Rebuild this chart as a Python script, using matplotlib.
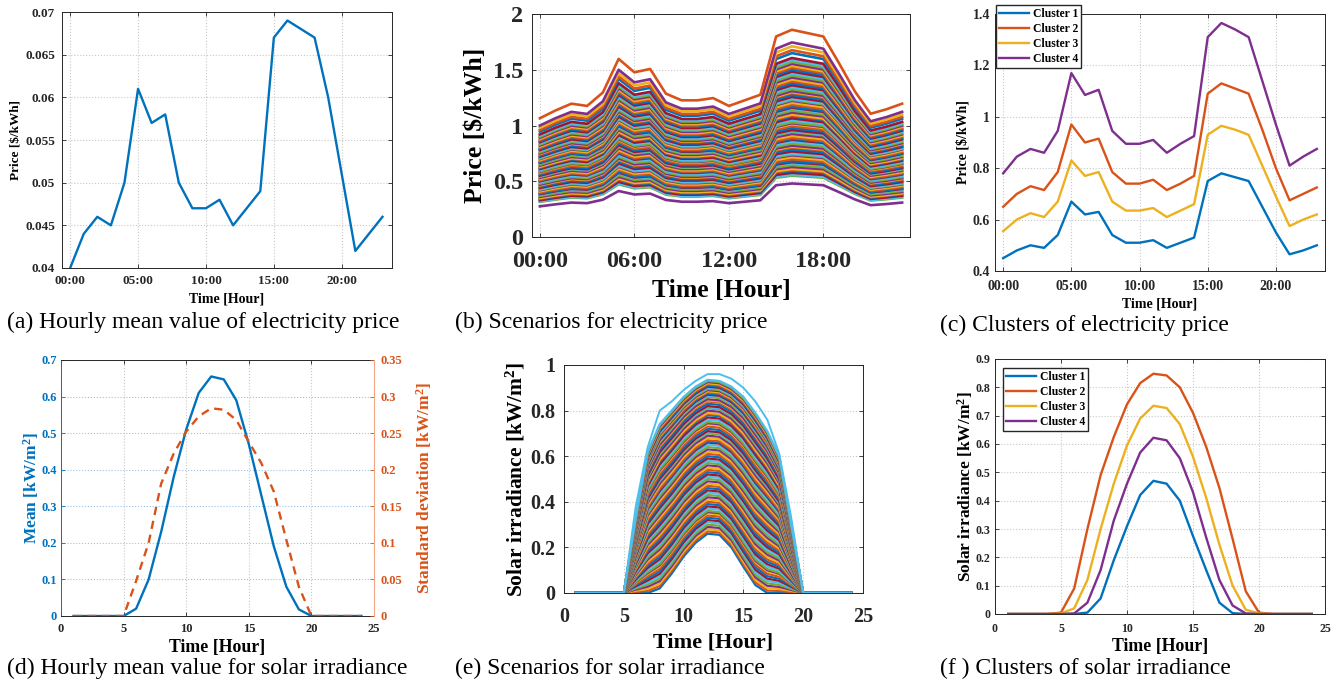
import numpy as np
import matplotlib
matplotlib.use("Agg")
import matplotlib.pyplot as plt
from matplotlib.ticker import FormatStrFormatter

plt.rcParams["font.family"] = ["Liberation Serif", "DejaVu Serif"]
plt.rcParams["font.weight"] = "bold"
plt.rcParams["mathtext.fontset"] = "custom"
plt.rcParams["mathtext.rm"] = "Liberation Serif:bold"
plt.rcParams["mathtext.bf"] = "Liberation Serif:bold"
plt.rcParams["mathtext.default"] = "bf"

# MATLAB default line colours
matlab = ["#0072BD", "#D95319", "#EDB120", "#7E2F8E", "#77AC30", "#4DBEEE", "#A2142F"]

# ---- electricity price data (hour 0..23) ----
hours_day = np.arange(24)
mean_price = [0.040, 0.044, 0.046, 0.045, 0.050, 0.061, 0.057, 0.058, 0.050, 0.047, 0.047, 0.048,
              0.045, 0.047, 0.049, 0.067, 0.069, 0.068, 0.067, 0.060, 0.051, 0.042, 0.044, 0.046]

# highest price scenario, every other scenario follows the same daily shape
top_scenario = [1.06, 1.13, 1.19, 1.17, 1.29, 1.59, 1.47, 1.50, 1.28, 1.22, 1.22, 1.24,
                1.17, 1.22, 1.27, 1.79, 1.85, 1.82, 1.79, 1.55, 1.30, 1.10, 1.14, 1.19]
scenario_start = [0.275, 0.315, 0.32, 0.33, 0.34, 0.345, 0.35, 0.36, 0.37, 0.38, 0.385, 0.39,
                  0.40, 0.41, 0.42, 0.425, 0.43, 0.44, 0.45, 0.46, 0.465, 0.47, 0.48, 0.49,
                  0.50, 0.505, 0.51, 0.52, 0.53, 0.54, 0.545, 0.55, 0.56, 0.57, 0.58, 0.585,
                  0.59, 0.60, 0.61, 0.62, 0.625, 0.63, 0.64, 0.65, 0.66, 0.665, 0.67, 0.68,
                  0.69, 0.70, 0.705, 0.71, 0.72, 0.73, 0.74, 0.745, 0.75, 0.76, 0.77, 0.78,
                  0.79, 0.80, 0.81, 0.82, 0.83, 0.84, 0.85, 0.86, 0.87, 0.88, 0.89, 0.90,
                  0.91, 0.92, 0.945, 0.96, 0.98, 1.0, 1.065]

price_c1 = [0.45, 0.48, 0.50, 0.49, 0.54, 0.67, 0.62, 0.63, 0.54, 0.51, 0.51, 0.52,
            0.49, 0.51, 0.53, 0.75, 0.78, 0.765, 0.75, 0.65, 0.55, 0.465, 0.48, 0.50]
price_c2 = [0.65, 0.70, 0.73, 0.715, 0.785, 0.97, 0.90, 0.915, 0.785, 0.74, 0.74, 0.755,
            0.715, 0.74, 0.77, 1.09, 1.13, 1.11, 1.09, 0.95, 0.80, 0.675, 0.70, 0.725]
price_c3 = [0.555, 0.60, 0.625, 0.61, 0.67, 0.83, 0.77, 0.785, 0.67, 0.635, 0.635, 0.645,
            0.61, 0.635, 0.66, 0.93, 0.965, 0.95, 0.93, 0.81, 0.69, 0.575, 0.60, 0.62]
price_c4 = [0.78, 0.845, 0.875, 0.86, 0.945, 1.17, 1.085, 1.105, 0.945, 0.895, 0.895, 0.91,
            0.86, 0.895, 0.925, 1.31, 1.365, 1.34, 1.31, 1.14, 0.97, 0.81, 0.845, 0.875]

# ---- solar irradiance data (hour 1..24) ----
hours_solar = np.arange(1, 25)
solar_mean = [0, 0, 0, 0, 0, 0.02, 0.10, 0.23, 0.38, 0.51, 0.61, 0.655,
              0.647, 0.59, 0.47, 0.33, 0.19, 0.08, 0.018, 0, 0, 0, 0, 0]
solar_std = [0, 0, 0, 0, 0, 0.048, 0.10, 0.181, 0.222, 0.252, 0.273, 0.284,
             0.282, 0.268, 0.238, 0.209, 0.17, 0.104, 0.04, 0, 0, 0, 0, 0]

solar_outer = [0, 0, 0, 0, 0, 0.38, 0.64, 0.80, 0.84, 0.89, 0.93, 0.96,
               0.96, 0.94, 0.90, 0.84, 0.76, 0.61, 0.33, 0, 0, 0, 0, 0]
solar_band_top = [0, 0, 0, 0, 0, 0.33, 0.62, 0.74, 0.80, 0.86, 0.905, 0.935,
                  0.93, 0.905, 0.86, 0.79, 0.71, 0.60, 0.30, 0, 0, 0, 0, 0]
solar_band_low = [0, 0, 0, 0, 0, 0, 0, 0.02, 0.085, 0.16, 0.22, 0.26,
                  0.255, 0.20, 0.115, 0.035, 0, 0, 0, 0, 0, 0, 0, 0]
solar_peaks = [0.26, 0.27, 0.28, 0.29, 0.30, 0.31, 0.32, 0.33, 0.34, 0.35, 0.355, 0.36,
               0.37, 0.38, 0.39, 0.40, 0.41, 0.42, 0.43, 0.44, 0.45, 0.46, 0.47, 0.48,
               0.49, 0.50, 0.51, 0.52, 0.53, 0.54, 0.55, 0.56, 0.57, 0.58, 0.59, 0.60,
               0.61, 0.62, 0.63, 0.64, 0.65, 0.66, 0.665, 0.67, 0.68, 0.69, 0.70, 0.705,
               0.71, 0.72, 0.73, 0.74, 0.745, 0.75, 0.76, 0.77, 0.78, 0.785, 0.79, 0.80,
               0.81, 0.815, 0.82, 0.83, 0.84, 0.845, 0.85, 0.86, 0.865, 0.87, 0.875, 0.88,
               0.885, 0.89, 0.895, 0.90, 0.905, 0.91, 0.915, 0.92, 0.925, 0.93, 0.935]

solar_c1 = [0, 0, 0, 0, 0, 0, 0.005, 0.055, 0.19, 0.31, 0.42, 0.47,
            0.46, 0.40, 0.275, 0.155, 0.04, 0.003, 0, 0, 0, 0, 0, 0]
solar_c2 = [0, 0, 0, 0, 0.005, 0.09, 0.30, 0.49, 0.625, 0.74, 0.815, 0.848,
            0.842, 0.80, 0.71, 0.59, 0.445, 0.265, 0.08, 0.005, 0, 0, 0, 0]
solar_c3 = [0, 0, 0, 0, 0.002, 0.02, 0.12, 0.30, 0.46, 0.595, 0.69, 0.735,
            0.727, 0.67, 0.555, 0.41, 0.245, 0.10, 0.015, 0.002, 0, 0, 0, 0]
solar_c4 = [0, 0, 0, 0, 0, 0.002, 0.04, 0.155, 0.33, 0.46, 0.57, 0.622,
            0.613, 0.55, 0.43, 0.27, 0.12, 0.03, 0.002, 0, 0, 0, 0, 0]

cluster_names = ["Cluster 1", "Cluster 2", "Cluster 3", "Cluster 4"]
W, H = 1341, 685


def box(l, t, r, b):
    return [l / W, 1 - b / H, (r - l) / W, (b - t) / H]


def style(ax, tsize, xpad, ypad):
    ax.tick_params(direction="in", top=True, right=True, labelsize=tsize,
                   colors="#262626", length=3, width=0.6)
    ax.tick_params(axis="x", pad=xpad)
    ax.tick_params(axis="y", pad=ypad)
    for s in ax.spines.values():
        s.set_color("#262626")
        s.set_linewidth(0.7)
    ax.grid(True, color="#c8c8c8", linestyle=":", linewidth=0.8)
    ax.set_axisbelow(True)
    for lab in ax.get_xticklabels() + ax.get_yticklabels():
        lab.set_fontweight("bold")


fig = plt.figure(figsize=(W / 100, H / 100), dpi=100)

# (a) hourly mean price
ax = fig.add_axes(box(62, 12, 392, 268))
ax.plot(hours_day, mean_price, color=matlab[0], lw=1.7)
ax.set_xlim(-0.6, 23.7)
ax.set_ylim(0.04, 0.07)
ax.set_xticks([0, 5, 10, 15, 20], ["00:00", "05:00", "10:00", "15:00", "20:00"])
ax.set_yticks(np.arange(0.04, 0.0701, 0.005))
ax.yaxis.set_major_formatter(FormatStrFormatter("%g"))
style(ax, 9.5, 5, 5)
ax.set_xlabel("Time [Hour]", fontsize=10, fontweight="bold", labelpad=4)
ax.set_ylabel(r"Price [\$/kWh]", fontsize=9.5, fontweight="bold", labelpad=2)

# (b) price scenarios
ax = fig.add_axes(box(532, 14, 910, 237))
top = np.array(top_scenario)
n = len(scenario_start)
for i, s in enumerate(scenario_start):
    c = matlab[1] if i == n - 1 else matlab[(i + 3) % 7]
    ax.plot(hours_day, top * s / top[0], color=c, lw=1.9)
ax.set_xlim(-0.5, 23.5)
ax.set_ylim(0, 2)
ax.set_xticks([0, 6, 12, 18], ["00:00", "06:00", "12:00", "18:00"])
ax.set_yticks([0, 0.5, 1, 1.5, 2])
ax.yaxis.set_major_formatter(FormatStrFormatter("%g"))
style(ax, 17.5, 10, 6.5)
ax.set_xlabel("Time [Hour]", fontsize=18.5, fontweight="bold", labelpad=5)
ax.set_ylabel(r"Price [\$/kWh]", fontsize=18.5, fontweight="bold", labelpad=4)

# (c) price clusters
ax = fig.add_axes(box(995, 14, 1325, 271))
for vals, c, name in zip([price_c1, price_c2, price_c3, price_c4], matlab[:4], cluster_names):
    ax.plot(hours_day, vals, color=c, lw=1.7, label=name)
ax.set_xlim(-0.6, 23.6)
ax.set_ylim(0.4, 1.4)
ax.set_xticks([0, 5, 10, 15, 20], ["00:00", "05:00", "10:00", "15:00", "20:00"])
ax.set_yticks([0.4, 0.6, 0.8, 1.0, 1.2, 1.4])
ax.yaxis.set_major_formatter(FormatStrFormatter("%g"))
style(ax, 10, 6.5, 3.5)
ax.set_xlabel("Time [Hour]", fontsize=10, fontweight="bold", labelpad=3.5)
ax.set_ylabel(r"Price [\$/kWh]", fontsize=10, fontweight="bold", labelpad=2)
ax.legend(loc="upper left", bbox_to_anchor=(996 / W, 1 - 5 / H), bbox_transform=fig.transFigure,
          borderaxespad=0, fancybox=False, edgecolor="#262626", framealpha=1,
          handlelength=2.6, handletextpad=0.3, labelspacing=0.25, borderpad=0.25,
          prop={"weight": "bold", "size": 8.4})

# (d) solar mean and standard deviation
ax = fig.add_axes(box(61, 360, 374, 616))
ax2 = ax.twinx()
ax.plot(hours_solar, solar_mean, color=matlab[0], lw=1.7)
ax2.plot(hours_solar, solar_std, color=matlab[1], lw=1.7, linestyle=(0, (3.5, 2.5)))
ax.set_xlim(0, 25)
ax.set_ylim(0, 0.7)
ax2.set_ylim(0, 0.35)
ax.set_xticks(np.arange(0, 26, 5))
ax.set_yticks(np.arange(0, 0.701, 0.1))
ax2.set_yticks(np.arange(0, 0.351, 0.05))
ax.yaxis.set_major_formatter(FormatStrFormatter("%g"))
ax2.yaxis.set_major_formatter(FormatStrFormatter("%g"))
style(ax, 9, 5, 3)
ax.tick_params(right=False)
ax.grid(False)
ax.xaxis.grid(True, color="#c8c8c8", linestyle=":", linewidth=0.8)
ax.yaxis.grid(True, color="#9cc3e6", linestyle=":", linewidth=0.8)
ax.tick_params(axis="y", colors=matlab[0])
ax.spines["left"].set_color(matlab[0])
ax.spines["right"].set_visible(False)
ax2.tick_params(direction="in", labelsize=9, colors=matlab[1], length=3, width=0.6, pad=4.5)
for s in ["left", "top", "bottom"]:
    ax2.spines[s].set_visible(False)
ax2.spines["right"].set_color("#f4a582")
for lab in ax2.get_yticklabels():
    lab.set_fontweight("bold")
ax.set_xlabel("Time [Hour]", fontsize=12.8, fontweight="bold", labelpad=3)
ax.set_ylabel(r"Mean [kW/m$^2$]", fontsize=12.5, fontweight="bold", color=matlab[0], labelpad=0)
ax2.set_ylabel(r"Standard deviation [kW/m$^2$]", fontsize=12.5, fontweight="bold",
               color=matlab[1], labelpad=9)

# (e) solar scenarios
ax = fig.add_axes(box(564, 365, 863, 593))
low = np.array(solar_band_low)
high = np.array(solar_band_top)
for i, p in enumerate(solar_peaks):
    frac = (p - solar_peaks[0]) / (solar_peaks[-1] - solar_peaks[0])
    ax.plot(hours_solar, low + frac * (high - low), color=matlab[i % 7], lw=1.6)
ax.plot(hours_solar, solar_outer, color=matlab[5], lw=1.4)
ax.set_xlim(0, 25)
ax.set_ylim(0, 1)
ax.set_xticks(np.arange(0, 26, 5))
ax.set_yticks(np.arange(0, 1.01, 0.2))
ax.yaxis.set_major_formatter(FormatStrFormatter("%g"))
style(ax, 14.5, 10, 6.5)
ax.set_xlabel("Time [Hour]", fontsize=16, fontweight="bold", labelpad=4)
ax.set_ylabel(r"Solar irradiance [kW/m$^2$]", fontsize=15.5, fontweight="bold", labelpad=2)

# (f) solar clusters
ax = fig.add_axes(box(995, 359, 1325, 614))
for vals, c, name in zip([solar_c1, solar_c2, solar_c3, solar_c4], matlab[:4], cluster_names):
    ax.plot(hours_solar, vals, color=c, lw=1.7, label=name)
ax.set_xlim(0, 25)
ax.set_ylim(0, 0.9)
ax.set_xticks(np.arange(0, 26, 5))
ax.set_yticks(np.arange(0, 0.901, 0.1))
ax.yaxis.set_major_formatter(FormatStrFormatter("%g"))
style(ax, 8.6, 6.5, 3.5)
ax.set_xlabel("Time [Hour]", fontsize=12.8, fontweight="bold", labelpad=2.5)
ax.set_ylabel(r"Solar irradiance [kW/m$^2$]", fontsize=12.5, fontweight="bold", labelpad=0.5)
ax.legend(loc="upper left", bbox_to_anchor=(1003 / W, 1 - 368 / H), bbox_transform=fig.transFigure,
          borderaxespad=0, fancybox=False, edgecolor="#262626", framealpha=1,
          handlelength=2.6, handletextpad=0.3, labelspacing=0.25, borderpad=0.25,
          prop={"weight": "bold", "size": 8.4})

# captions
captions = [(7, 322, "(a) Hourly mean value of electricity price"),
            (455, 322, "(b) Scenarios for electricity price"),
            (940, 325, "(c) Clusters of electricity price"),
            (7, 668, "(d) Hourly mean value for solar irradiance"),
            (455, 668, "(e) Scenarios for solar irradiance"),
            (940, 668, "(f ) Clusters of solar irradiance")]
for x, y, txt in captions:
    fig.text(x / W, 1 - y / H, txt, fontsize=17, fontweight="normal", va="center", ha="left")

fig.savefig("out.png", dpi=100)
